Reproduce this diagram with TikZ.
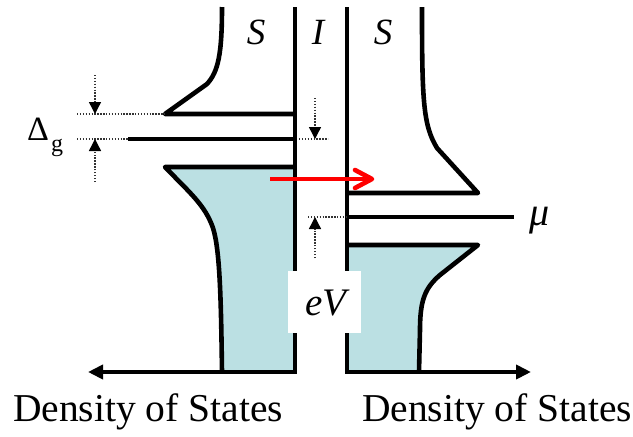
\documentclass[tikz,border=0pt]{standalone}
\usepackage{fontspec}
\setmainfont{Liberation Serif}
\usetikzlibrary{arrows.meta}
\definecolor{dosfill}{RGB}{187,224,227}
\begin{document}
\begin{tikzpicture}[x=1pt,y=-1pt,
  heavy/.style={line width=4.6pt, line join=round},
  dotline/.style={line width=1.4pt, dash pattern=on 1.4pt off 1.5pt, black!80},
  dotarrow/.style={dotline, -{Triangle[length=12pt,width=12pt,color=black]}},
  axisarrow/.style={line width=4.6pt, line join=miter, -{Triangle[length=15pt,width=14pt]}},
  lbl/.style={inner sep=0pt, font=\fontsize{37}{39}\selectfont\itshape},
  dos/.style={inner sep=0pt, anchor=base, font=\fontsize{39.5}{41}\selectfont}
]
\useasboundingbox (0,0) rectangle (633,437);
% named coordinates
\coordinate (lbTop) at (295,7);
\coordinate (lbBot) at (295,372);
\coordinate (rbTop) at (347,7);
\coordinate (rbBot) at (347,372);
\coordinate (laxEnd) at (88,372);
\coordinate (raxEnd) at (531,372);
% fills
\fill[dosfill] (165,167) -- (295,167) -- (295,372) -- (222,372)
  .. controls (221,300) and (220,250) .. (213,228)
  .. controls (205,205) and (190,193) .. cycle;
\fill[dosfill] (347,245) -- (478,245) -- (440,275)
  .. controls (425,288) and (420,300) .. (420,330) -- (419,372) -- (347,372) -- cycle;
% left S outline
\draw[heavy] (222,7) .. controls (222,55) and (218,72) .. (207,84) -- (165,114) -- (295,114);
\draw[heavy] (128,139) -- (295,139);
\draw[heavy] (295,167) -- (165,167)
  .. controls (190,193) and (205,205) .. (213,228)
  .. controls (220,250) and (221,300) .. (222,372);
% right S outline
\draw[heavy] (422,7) .. controls (422,100) and (423,125) .. (437,148) -- (478,193) -- (347,193);
\draw[heavy] (347,217) -- (514,217);
\draw[heavy] (347,245) -- (478,245) -- (440,275)
  .. controls (425,288) and (420,300) .. (420,330) -- (419,372);
% barriers and axes
\draw[axisarrow] (lbTop) -- (lbBot) -- (laxEnd);
\draw[axisarrow] (rbTop) -- (rbBot) -- (raxEnd);
% dotted gap markers
\draw[dotline] (77,114) -- (165,114);
\draw[dotline] (77,139) -- (128,139);
\draw[dotarrow] (95,75) -- (95,114);
\draw[dotarrow] (95,182) -- (95,139);
\draw[dotline] (299,139) -- (328,139);
\draw[dotarrow] (315,98) -- (315,139);
\draw[dotline] (308,217) -- (347,217);
\draw[dotarrow] (315,258) -- (315,217);
% red tunnelling arrow
\coordinate (redS) at (270,179);
\coordinate (redT) at (372,179);
\draw[red, line width=4.6pt] (redS) -- (redT);
\draw[red, line width=4.6pt, line cap=round, line join=round] (355,170) -- (redT) -- (355,188);
% eV box
\node[fill=white, minimum width=73pt, minimum height=62pt, inner sep=0pt] (evbox) at (324.5,302) {};
\node[lbl, font=\fontsize{39}{41}\selectfont\itshape] (ev) at (326,303) {eV};
% labels
\node[lbl] (sL) at (256,32) {S};
\node[lbl] (iL) at (318,32) {I};
\node[lbl] (sR) at (383,32) {S};
\node[lbl, font=\fontsize{40}{42}\selectfont\itshape] (mu) at (540,221) {μ};
\node[inner sep=0pt, font=\fontsize{34}{36}\selectfont] (delta) at (38,129) {Δ};
\node[inner sep=0pt, font=\fontsize{24}{26}\selectfont] (gsub) at (57,148) {g};
\node[dos] (dosL) at (148,421) {Density of States};
\node[dos] (dosR) at (497,421) {Density of States};
\end{tikzpicture}
\end{document}
